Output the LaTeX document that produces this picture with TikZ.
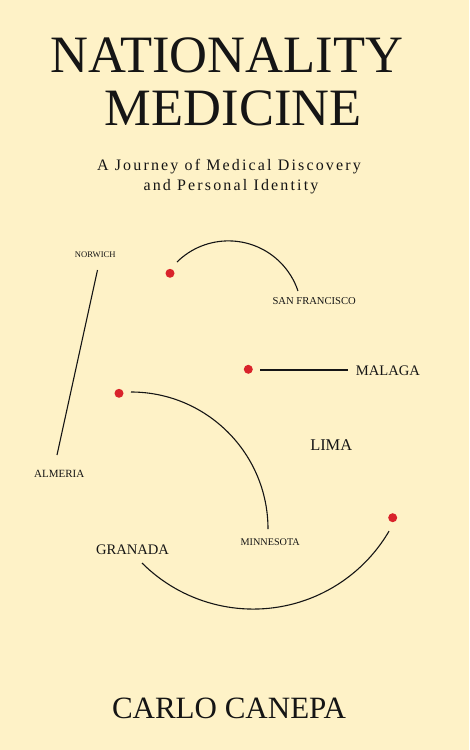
\documentclass[tikz,border=0pt]{standalone}
\usepackage{fontspec}
\setmainfont{Liberation Serif}
\newfontfamily\subfont[LetterSpace=13.5]{Liberation Serif}
\definecolor{bg}{HTML}{FEF2C7}
\definecolor{ink}{HTML}{151515}
\definecolor{dotred}{HTML}{D9232B}
\begin{document}
\begin{tikzpicture}[x=1pt,y=1pt,
  lbl/.style={inner sep=0pt,anchor=base,text=ink},
  curve/.style={draw=ink,line width=1.1pt},
  reddot/.style={fill=dotred}]
\fill[bg] (0,0) rectangle (469,-750);
\useasboundingbox (0,0) rectangle (469,-750);
% titles
\node[lbl,font=\fontsize{52.5}{52.5}\selectfont] (t1) at (226.7,-72.7) {NATIONALITY};
\node[lbl,font=\fontsize{52.5}{52.5}\selectfont] (t2) at (233.3,-125) {MEDICINE};
\node[lbl,font=\subfont\fontsize{16}{16}\selectfont] (s1) at (229,-170.5) {A Journey of Medical Discovery};
\node[lbl,font=\subfont\fontsize{16}{16}\selectfont] (s2) at (231,-190.5) {and Personal Identity};
\node[lbl,font=\fontsize{31}{31}\selectfont] (au) at (229,-718) {CARLO CANEPA};
% place labels
\node[lbl,font=\fontsize{8.6}{8.6}\selectfont] (norwich) at (95.3,-257.5) {NORWICH};
\node[lbl,font=\fontsize{10.6}{10.6}\selectfont] (sanfran) at (314.2,-304.3) {SAN FRANCISCO};
\node[lbl,font=\fontsize{14.6}{14.6}\selectfont] (malaga) at (388,-375.5) {MALAGA};
\node[lbl,font=\fontsize{11}{11}\selectfont] (almeria) at (59.3,-477) {ALMERIA};
\node[lbl,font=\fontsize{16.4}{16.4}\selectfont] (lima) at (331.2,-450.5) {LIMA};
\node[lbl,font=\fontsize{10.2}{10.2}\selectfont] (minnesota) at (270.2,-545.5) {MINNESOTA};
\node[lbl,font=\fontsize{14.6}{14.6}\selectfont] (granada) at (132.5,-554) {GRANADA};
% dots
\fill[reddot] (170,-273.3) circle[radius=4.5];
\fill[reddot] (248.3,-369.3) circle[radius=4.5];
\fill[reddot] (119,-393.3) circle[radius=4.5];
\fill[reddot] (392.7,-517.7) circle[radius=4.5];
% connector end points
\coordinate (nwA) at (97.5,-270);
\coordinate (nwB) at (57,-455);
\coordinate (sfA) at (177,-262);
\coordinate (mgA) at (260,-370);
\coordinate (mgB) at (348.3,-370);
\coordinate (mnA) at (131,-392);
\coordinate (grA) at (142,-563);
% connectors
\draw[curve] (nwA) -- (nwB);
\draw[curve] (sfA) arc[start angle=134.6,end angle=18.5,radius=73.3];
\draw[curve] (mgA) -- (mgB);
\draw[curve] (mnA) arc[start angle=90,end angle=0,radius=137];
\draw[curve] (grA) arc[start angle=225,end angle=329.7,radius=157.3];
\end{tikzpicture}
\end{document}
